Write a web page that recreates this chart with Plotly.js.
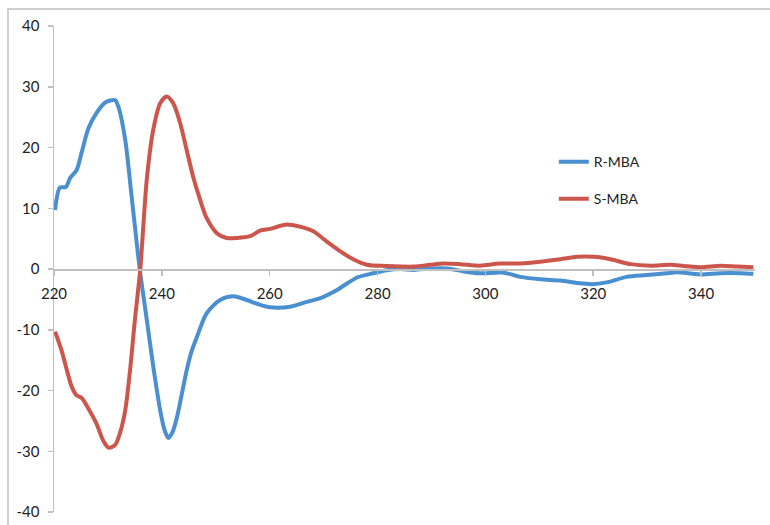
<!DOCTYPE html>
<html>
<head>
<meta charset="utf-8">
<script src="https://cdn.plot.ly/plotly-3.0.1.min.js"></script>
<style>
  html, body { margin: 0; padding: 0; background: #ffffff; }
  #chart { width: 770px; height: 525px; }
</style>
</head>
<body>
<div id="chart"></div>
<script>
// CD spectra of the two enantiomers, wavelength (nm) vs signal
const rWavelength = [220.2, 221.1, 222.2, 223.0, 224.2, 225.1, 226.4, 227.9, 229.5, 231.3, 231.9, 233.2, 234.4, 235.9,
  237.2, 238.4, 239.7, 240.5, 241.2, 242.0, 242.8, 243.7, 244.6, 245.5, 246.5, 248.3, 250.8, 253.3, 255.7, 258.2,
  260.1, 263.8, 266.9, 269.4, 272.4, 276.2, 279.2, 281.7, 284.2, 286.7, 290.0, 292.9, 296.0, 299.0, 303.4, 306.5,
  310.2, 313.9, 317.0, 319.8, 322.5, 326.2, 329.9, 333.6, 335.5, 339.9, 343.6, 347.3, 349.7];
const rSignal = [9.7, 13.4, 13.5, 15.0, 16.3, 19.1, 23.2, 25.7, 27.4, 27.8, 26.8, 21.3, 11.9, 0.0,
  -8.3, -16.0, -23.3, -26.5, -27.8, -26.8, -24.4, -20.6, -16.7, -13.6, -11.2, -7.3, -5.1, -4.5, -5.1, -5.9,
  -6.3, -6.2, -5.4, -4.8, -3.5, -1.4, -0.7, -0.2, 0.0, -0.15, 0.1, 0.1, -0.4, -0.7, -0.6, -1.3,
  -1.7, -1.9, -2.3, -2.5, -2.2, -1.3, -1.0, -0.7, -0.55, -0.9, -0.7, -0.7, -0.8];

const sWavelength = [220.2, 221.4, 222.4, 223.3, 224.2, 225.1, 226.4, 227.9, 229.1, 230.1, 231.3, 232.2, 233.2, 234.1,
  235.0, 236.0, 237.2, 238.4, 239.7, 240.9, 242.1, 243.4, 244.6, 245.8, 247.1, 248.3, 250.2, 252.0, 253.9, 256.4,
  258.2, 260.1, 262.9, 266.3, 268.1, 270.6, 273.1, 275.5, 278.0, 281.7, 286.7, 289.8, 292.2, 295.3, 299.0, 302.7,
  306.5, 310.2, 313.9, 317.0, 320.1, 323.2, 326.9, 330.6, 334.3, 336.8, 339.9, 343.6, 346.7, 349.7];
const sSignal = [-10.3, -13.4, -16.7, -19.4, -20.8, -21.2, -23.0, -25.5, -28.2, -29.4, -29.0, -27.1, -23.3, -16.7,
  -8.4, 0.0, 14.7, 22.9, 27.3, 28.4, 27.3, 24.0, 19.6, 15.2, 11.4, 8.4, 5.9, 5.1, 5.1, 5.4,
  6.3, 6.6, 7.3, 6.8, 6.2, 4.5, 2.9, 1.6, 0.7, 0.5, 0.4, 0.7, 0.9, 0.8, 0.55, 0.9,
  0.9, 1.2, 1.6, 2.0, 2.0, 1.6, 0.8, 0.55, 0.7, 0.5, 0.3, 0.55, 0.4, 0.3];

const seriesNames = ['R-MBA', 'S-MBA'];
const xTicks = [220, 240, 260, 280, 300, 320, 340];
const yTicks = [-40, -30, -20, -10, 0, 10, 20, 30, 40];

const axisGray = '#bfbfbf';
const fontBase = { family: 'Lato, "Open Sans", sans-serif', size: 15, color: '#222222' };

const traces = [
  {
    x: rWavelength, y: rSignal, name: seriesNames[0], type: 'scatter', mode: 'lines',
    legendgroup: 'r',
    line: { color: '#4a8fcf', width: 4, shape: 'spline', smoothing: 0.8 }
  },
  {
    x: sWavelength, y: sSignal, name: seriesNames[1], type: 'scatter', mode: 'lines',
    legendgroup: 's',
    line: { color: '#cc564c', width: 4, shape: 'spline', smoothing: 0.8 }
  }
];

const layout = {
  width: 770, height: 525,
  margin: { l: 54, r: 15, t: 26, b: 13 },
  paper_bgcolor: '#ffffff', plot_bgcolor: '#ffffff',
  font: fontBase,
  showlegend: true,
  legend: {
    x: 0.713, y: 0.753, xanchor: 'left', yanchor: 'top',
    bgcolor: 'rgba(0,0,0,0)', borderwidth: 0,
    font: { family: fontBase.family, size: 14, color: '#222222' },
    tracegroupgap: 16, itemwidth: 30
  },
  xaxis: {
    range: [220, 350], tickvals: xTicks, ticktext: xTicks.map(String),
    anchor: 'free', position: 0.5,
    showline: true, linecolor: axisGray, linewidth: 1.5,
    ticks: 'outside', ticklen: 5, tickcolor: axisGray, tickwidth: 1.5,
    ticklabelstandoff: 5,
    showgrid: false, zeroline: false,
    tickfont: fontBase
  },
  yaxis: {
    range: [-40, 40], tickvals: yTicks, ticktext: yTicks.map(String),
    showline: true, linecolor: axisGray, linewidth: 1.5,
    ticks: 'outside', ticklen: 5, tickcolor: axisGray, tickwidth: 1.5,
    ticklabelstandoff: 5,
    showgrid: false, zeroline: false,
    tickfont: fontBase
  },
  shapes: [
    {
      // chart frame
      type: 'rect', xref: 'paper', yref: 'paper',
      x0: -0.0656, x1: 1.06, y0: -0.05, y1: 1.035,
      line: { color: '#cfcfcf', width: 2 }, fillcolor: 'rgba(0,0,0,0)', layer: 'below'
    }
  ]
};

Plotly.newPlot('chart', traces, layout, { staticPlot: true, displayModeBar: false });
</script>
</body>
</html>
